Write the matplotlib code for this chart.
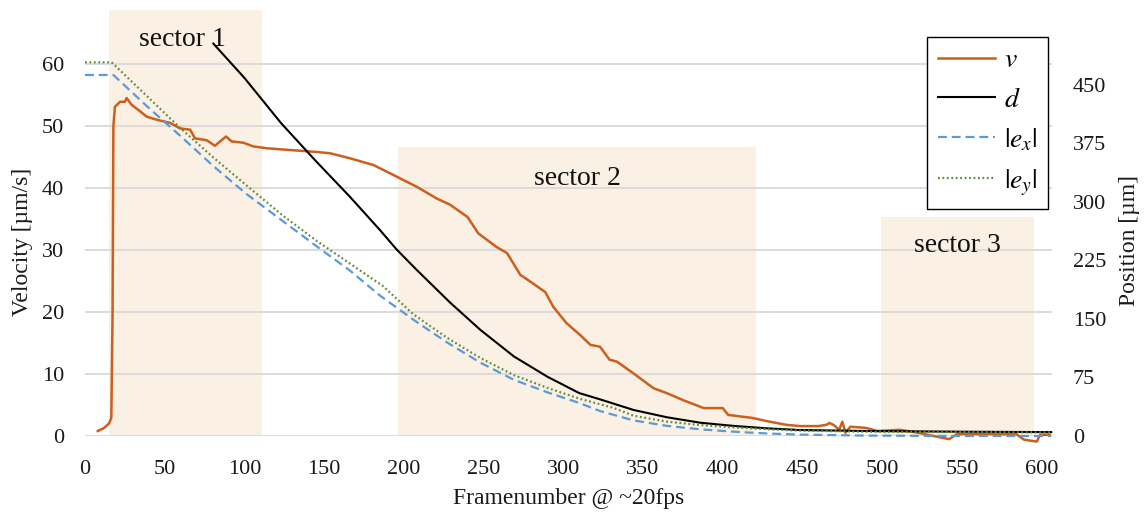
import matplotlib
matplotlib.use('Agg')
import matplotlib.pyplot as plt

plt.rcParams['font.family'] = 'Liberation Serif'
plt.rcParams['mathtext.fontset'] = 'stix'

# sectors (frame range and height on velocity axis)
sector_start = [15, 196, 499]
sector_end = [111, 421, 595]
sector_top = [68.7, 46.6, 35.3]
sector_names = ['sector 1', 'sector 2', 'sector 3']
sector_label_x = [61, 309, 547]
sector_label_y = [63.9, 41.6, 30.8]

# velocity v [um/s]
v_frame = [8, 12, 15, 16.5, 17.3, 17.8, 18.8, 22, 25, 26.1, 29.3, 33.4, 38.7, 45, 53.3,
           59.6, 65.9, 69, 76.3, 81.5, 84.7, 88.5, 92, 99.3, 105.6, 114, 124.4, 135,
           145.4, 153.7, 166, 180.9, 193.4, 208, 220.6, 229, 240, 246.6, 258, 264.7,
           273, 281, 288.7, 293.8, 302, 310.5, 317, 323, 329, 333.6, 344, 352.4, 356.6,
           365, 375, 388, 400, 403.4, 419, 427.6, 440, 448.5, 460, 465, 467, 470, 473,
           475, 477, 480, 490, 497, 511, 521, 534, 542, 547, 584, 589, 597, 599, 605]
v_vals = [0.8, 1.3, 2.0, 2.9, 20, 50, 53.1, 53.9, 53.9, 54.5, 53.4, 52.6, 51.5, 51.0, 50.5,
          49.6, 49.4, 48.0, 47.7, 46.8, 47.5, 48.3, 47.5, 47.3, 46.7, 46.4, 46.2, 46.0,
          45.8, 45.6, 44.8, 43.7, 42.1, 40.2, 38.3, 37.3, 35.3, 32.7, 30.5, 29.5,
          26.0, 24.6, 23.2, 20.8, 18.2, 16.3, 14.7, 14.4, 12.3, 12.0, 10.1, 8.5, 7.7,
          6.9, 5.8, 4.5, 4.5, 3.4, 2.9, 2.4, 1.8, 1.6, 1.6, 1.8, 2.1, 1.7, 1.0,
          2.3, 0.5, 1.5, 1.3, 0.8, 1.0, 0.6, -0.1, -0.5, 0.3, 0.3, -0.6, -0.9, 0.2, 0.2]

# position d [um]
d_frame = [80.5, 100, 123, 145, 166, 185, 195.5, 208, 229, 248, 269, 290, 310, 323, 344,
           365, 386, 407, 428, 448, 490, 550, 606]
d_vals = [503, 459, 401, 352, 307, 264, 239, 213, 171, 136, 102, 76, 55, 47, 33.4,
          24, 17, 12.9, 9.8, 7.7, 6.4, 5.5, 5]

# |e_x| and |e_y| [um]
ex_frame = [0, 17.8, 38.7, 59.6, 80.5, 101.4, 124.4, 145.4, 166.2, 185, 206, 227, 248,
            269, 290, 310.5, 323, 344, 365, 386, 407, 428, 448, 490, 550, 606]
ex_vals = [462.8, 462.8, 423, 385, 346, 310, 275, 243, 212, 180, 149, 120, 94,
           72, 56, 42, 32, 20, 13, 8.5, 5.5, 3.2, 1.8, 0.5, 0, 0]
ey_frame = [0, 16.7, 38.7, 59.6, 80.5, 101.4, 124.4, 145.4, 166.2, 187, 206, 227, 248,
            269, 290, 310.5, 331.5, 344, 365, 386, 407, 428, 448, 490, 550, 606]
ey_vals = [479, 479, 436, 395, 357, 321, 282, 250, 221, 192, 156, 126, 100,
           78, 61.7, 47.6, 36, 26, 18.4, 14, 11, 8.6, 6.9, 5.5, 5, 4.5]

fig = plt.figure(figsize=(11.46, 5.13), dpi=100)
ax = fig.add_axes([85 / 1146, 77 / 513, 967 / 1146, 426 / 513])
ax2 = ax.twinx()

widths = [e - s for s, e in zip(sector_start, sector_end)]
ax.bar(sector_start, sector_top, width=widths, align='edge', color='#fbf0e4', zorder=0)

ax.grid(axis='y', color='#d9d9d9', linewidth=1.3, zorder=0.5)
ax.set_axisbelow(True)

lv, = ax.plot(v_frame, v_vals, color='#cc5f1c', linewidth=1.8, clip_on=False, label='$v$')
ld, = ax2.plot(d_frame, d_vals, color='black', linewidth=1.5, clip_on=False, label='$d$')
lex, = ax2.plot(ex_frame, ex_vals, color='#5b9bd5', linewidth=1.6, linestyle=(0, (4, 2.2)),
                clip_on=False, label='$|e_x|$')
ley, = ax2.plot(ey_frame, ey_vals, color='#5b8c3a', linewidth=1.6, linestyle=(0, (0.8, 1.2)),
                clip_on=False, label='$|e_y|$')

for name, x, y in zip(sector_names, sector_label_x, sector_label_y):
    ax.text(x, y, name, fontsize=20, ha='center', va='center', color='#111111', zorder=5)

ax.set_xlim(0, 606.5)
ax.set_ylim(0, 68.7)
ax2.set_ylim(0, 68.7 * 6.2 / 0.78)
ax.set_xticks(range(0, 601, 50))
ax.set_yticks(range(0, 61, 10))
ax2.set_yticks(range(0, 451, 75))

for a in (ax, ax2):
    for s in a.spines.values():
        s.set_visible(False)
    a.tick_params(length=0, labelsize=16, colors='#1a1a1a', pad=15)
ax.tick_params(axis='x', pad=17)

ax.set_xlabel('Framenumber @ ~20fps', fontsize=17, color='#1a1a1a')
ax.set_ylabel('Velocity [µm/s]', fontsize=17, color='#1a1a1a')
ax2.set_ylabel('Position [µm]', fontsize=17, color='#1a1a1a', rotation=90)
ax.xaxis.set_label_coords(0.5, -0.122)
ax.yaxis.set_label_coords(-0.054, 0.455)
ax2.yaxis.set_label_coords(1.069, 0.458)

leg = ax2.legend(handles=[lv, ld, lex, ley], loc='upper right', bbox_to_anchor=(0.996, 0.937),
                 borderaxespad=0, fontsize=20, handlelength=2.05, handletextpad=0.3,
                 borderpad=0.4, labelspacing=0.5,
                 fancybox=False, edgecolor='black', framealpha=1)
leg.get_frame().set_linewidth(1.0)

fig.savefig('out.png', dpi=100)
